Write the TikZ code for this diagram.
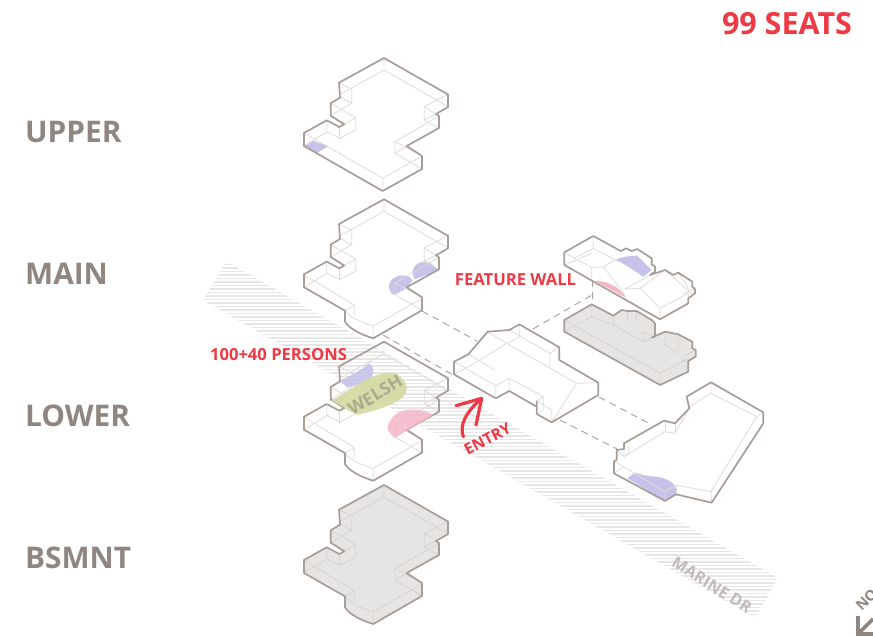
\documentclass[tikz,border=0pt]{standalone}
\usepackage{fontspec}
\setmainfont{Open Sans}
\definecolor{wallgray}{HTML}{A79D99}
\definecolor{linegray}{HTML}{DEDBD9}
\definecolor{floorgray}{HTML}{E7E5E3}
\definecolor{labelgray}{HTML}{8F8681}
\definecolor{hatchgray}{HTML}{E6E6E6}
\definecolor{seatred}{HTML}{EE3A45}
\definecolor{seatpurple}{HTML}{C6C2EA}
\definecolor{seatpink}{HTML}{F5B6C8}
\definecolor{seatgreen}{HTML}{D5D9A2}
\definecolor{welshgray}{HTML}{ABAA90}
\tikzset{
 wall/.style={draw=wallgray,line width=1.7pt,line join=round},
 thinwall/.style={draw=linegray,line width=0.8pt,line join=round},
 level/.style={font=\fontsize{29.8}{32}\selectfont\bfseries,text=labelgray,anchor=west,inner sep=0pt},
 redlabel/.style={font=\fontsize{16.6}{18}\selectfont\bfseries,text=seatred,inner sep=0pt},
 link/.style={draw=wallgray,line width=0.9pt,dash pattern=on 7pt off 5pt},
}
% outline of a floor, #1 is the part at the front corner
\newcommand{\planwall}[1]{(304,146) -- (304,133) -- (326.7,120.3) -- (339.3,127) -- (344.3,124.3) -- (330.7,115.7) -- (330.7,103.3) -- (340,97.7) -- (339,82.7) -- (384,58) -- (448,94.5) -- (448,107) -- (436,114) -- (439,116) -- (439,128) -- (406.7,146) -- (422,156) -- (422,169) #1 -- cycle}
\newcommand{\planlines}{
 \draw[thinwall] (384,58)--(384,70)--(448,106.7);
 \draw[thinwall] (384,70)--(339,95);
 \draw[thinwall] (339,82.7)--(351.7,89)--(351.7,103.3)--(340,97);
 \draw[thinwall] (330.7,103.3)--(355.7,117.7)--(355.7,130)--(340,138.3)--(326.7,131.7)--(326.7,120.3);
 \draw[thinwall] (339.3,127)--(339.3,139.3);
 \draw[thinwall] (355.7,117.7)--(344.3,124.3);
 \draw[thinwall] (330.7,115.7)--(351.7,103.3);
 \draw[thinwall] (304,146)--(326.7,132);
 \draw[thinwall] (395,141.7)--(422,156);
 \draw[thinwall] (395,141.7)--(395,153.3)--(422,169);
 \draw[thinwall] (395,153.3)--(406.7,146);
 \draw[thinwall] (395,141.7)--(439,116);
 \draw[thinwall] (424.3,106.7)--(424.3,120)--(439,128);
 \draw[thinwall] (424.3,106.7)--(436,114);
 \draw[thinwall] (424.3,106.7)--(448,94.3);
 \draw[thinwall] (424.3,120)--(436,114);
}
\newcommand{\bumpedge}{-- (373.3,197) .. controls (360,193) and (349,187) .. (345,180.4) -- (345,169.4)}
\newcommand{\bumplines}{
 \draw[thinwall] (304,133.4)--(354.3,163.7)--(354.3,175);
 \draw[thinwall] (345,169.4)--(354.3,163.7);
 \draw[thinwall] (345,169.4) .. controls (349,175) and (360,181) .. (373.3,184.7)--(373.3,197);
 \draw[thinwall] (373.3,184.7)--(422,157);
}
\begin{document}
\begin{tikzpicture}[x=1pt,y=-1pt]
 \useasboundingbox (0,0) rectangle (873,637);
 \clip (0,0) rectangle (873,637);
 % road
 \begin{scope}
  \clip (226,261)--(778,578)--(755,618)--(203,300)--cycle;
  \foreach \y in {261,264.5,...,621}{\draw[hatchgray,line width=1.5pt] (200,\y)--(780,\y);}
 \end{scope}
 \node[font=\fontsize{16}{18}\selectfont\bfseries,text=wallgray!70,rotate=-32,inner sep=0pt] (road) at (712,585) {MARINE DR};
 % upper
 \fill[seatpurple] (304,146)--(312.7,140.7)--(328.3,146)--(316.7,153.3)--cycle;
 \planlines
 \draw[thinwall] (304,133)--(382.7,178.3)--(382.7,191);
 \draw[thinwall] (382.7,178.3)--(422,156);
 \draw[wall] \planwall{-- (382.7,191)};
 % main
 \fill[seatpurple] (415,279.3) .. controls (411,276) and (411,266) .. (420,262.5) .. controls (426,260) and (431,262) .. (438.3,270) -- cycle;
 \fill[seatpurple] (395,295) .. controls (388,293) and (387,283) .. (393.3,278.3) .. controls (399,274) and (408,274) .. (412.7,280) -- (406.7,288.3) -- cycle;
 \begin{scope}[shift={(0,141.3)}]
  \planlines
  \bumplines
  \draw[wall] \planwall{\bumpedge};
 \end{scope}
 % lower
 \begin{scope}[shift={(0,283.7)}]
  \planlines
  \bumplines
  \draw[wall] \planwall{\bumpedge};
 \end{scope}
 \fill[seatpurple,opacity=.9] (340,380.7) .. controls (352,375) and (362,370) .. (368.3,363.3) .. controls (372,364) and (375,370) .. (372.7,375) .. controls (370,380) and (365,383) .. (363.3,383.3) .. controls (357,385) and (351,387) .. (346.7,387.3) -- cycle;
 \fill[seatgreen,opacity=.92] (331.7,400.7) -- (365,380) .. controls (375,375) and (385,372) .. (393.3,372.7) .. controls (401,374) and (407,384) .. (406.7,390) .. controls (406,395) and (401,399) .. (396.7,401.7) .. controls (385,408) and (370,412) .. (356.7,415) -- cycle;
 \fill[seatpink,opacity=.85] (395,437.7) .. controls (388,433) and (386,428) .. (388.3,424) .. controls (392,416) and (398,412) .. (403.3,410.7) .. controls (413,408) and (425,410) .. (433.3,415) -- cycle;
 \node[font=\fontsize{17.5}{19}\selectfont\bfseries,text=welshgray,rotate=31,inner sep=0pt] (welsh) at (375,395) {WELSH};
 % basement
 \begin{scope}[shift={(0,427)}]
  \fill[floorgray] \planwall{\bumpedge};
  \tikzset{thinwall/.append style={draw=wallgray!45}}
  \planlines
  \bumplines
  \draw[wall] \planwall{\bumpedge};
 \end{scope}
 % links
 \coordinate (mainR) at (422,311);
 \coordinate (houseL) at (477,341);
 \coordinate (mainB) at (383,335);
 \coordinate (houseF) at (453,375);
 \coordinate (houseT) at (533,329);
 \coordinate (featB) at (592,295);
 \coordinate (houseR) at (599,397);
 \coordinate (rightA) at (652,425);
 \coordinate (houseS) at (560,420);
 \coordinate (rightB) at (617,449);
 \coordinate (featT) at (592,280);
 \coordinate (featD) at (592,352);
 \draw[link] (mainR)--(houseL);
 \draw[link] (mainB)--(houseF);
 \draw[link] (houseT)--(featB);
 \draw[link] (houseR)--(rightA);
 \draw[link] (houseS)--(rightB);
 \draw[link] (featT)--(featD);
 % feature wall roof and floor
 \begin{scope}[shift={(550,225)},scale=0.3333]
  \fill[floorgray] (125,238)--(190,272)--(215,255)--(232,258)--(260,258)--(305,285)--(315,295)--(315,335)--(305,338)--(345,320)--(385,328)--(427,350)--(427,370)--(437,375)--(437,395)--(415,408)--(415,440)--(330,480)--(43,320)--(43,285)--cycle;
  \fill[seatpurple] (195,105) .. controls (215,95) and (240,92) .. (262,92) -- (305,135) -- (280,155) .. controls (255,140) and (225,115) .. (195,105) -- cycle;
  \fill[seatpink] (135,168) .. controls (165,165) and (210,185) .. (228,218) -- cycle;
  \draw[thinwall] (130,33)--(130,70)--(195,105);
  \draw[thinwall] (72,100)--(130,70);
  \draw[thinwall] (43,82)--(125,128)--(125,165);
  \draw[thinwall] (43,120)--(125,85);
  \draw[thinwall] (125,128)--(160,125)--(225,210);
  \draw[thinwall] (160,125)--(195,105);
  \draw[thinwall] (225,192)--(300,150);
  \draw[thinwall] (225,192)--(270,190)--(330,250)--(330,283);
  \draw[thinwall] (270,190)--(345,135);
  \draw[thinwall] (330,250)--(415,205);
  \draw[thinwall] (345,135)--(425,205);
  \draw[thinwall] (385,143)--(415,190)--(415,220);
  \draw[thinwall] (400,205)--(435,192);
  \draw[wall] (43,120)--(43,82)--(130,33)--(212,78)--(228,70)--(245,78)--(262,72)--(305,100)--(305,118)--(315,125)--(315,140)--(300,150)--(345,135)--(370,150)--(385,143)--(427,170)--(427,185)--(435,192)--(435,205)--(415,220)--(415,235)--(330,283)--cycle;
  \tikzset{thinwall/.append style={draw=wallgray!45}}
  \draw[thinwall] (43,285)--(330,445)--(330,480);
  \draw[thinwall] (330,445)--(415,400);
  \draw[thinwall] (125,238)--(125,275)--(43,320);
  \draw[thinwall] (125,275)--(190,300)--(190,272);
  \draw[thinwall] (190,300)--(280,350)--(305,338);
  \draw[thinwall] (280,320)--(280,350);
  \draw[thinwall] (280,320)--(315,335);
  \draw[thinwall] (232,258)--(232,290);
  \draw[thinwall] (260,258)--(260,290);
  \draw[thinwall] (345,320)--(345,360)--(385,385)--(385,328);
  \draw[thinwall] (398,395)--(398,410)--(415,408);
  \draw[thinwall] (398,395)--(437,375);
  \draw[wall] (125,238)--(190,272)--(215,255)--(232,258)--(260,258)--(305,285)--(315,295)--(315,335)--(305,338)--(345,320)--(385,328)--(427,350)--(427,370)--(437,375)--(437,395)--(415,408)--(415,440)--(330,480)--(43,320)--(43,285)--cycle;
 \end{scope}
 % house
 \begin{scope}[shift={(440,315)},scale=0.3333]
  \draw[thinwall] (42,140)--(167,212)--(167,250);
  \draw[thinwall] (167,212)--(208,190)--(208,228);
  \draw[thinwall] (208,190)--(310,245);
  \draw[thinwall] (85,118)--(165,165);
  \draw[thinwall] (143,50)--(200,85)--(410,205)--(335,322);
  \draw[thinwall] (410,205)--(475,203);
  \draw[thinwall] (42,178)--(120,135)--(200,85);
  \draw[thinwall] (238,28)--(238,65)--(205,85);
  \draw[thinwall] (208,45)--(330,115)--(330,155);
  \draw[thinwall] (330,115)--(358,97);
  \draw[thinwall] (290,258)--(310,245)--(310,285)--(290,297);
  \draw[thinwall] (290,258)--(335,285)--(335,322);
  \draw[wall] (167,250)--(42,178)--(42,140)--(85,118)--(143,50)--(208,45)--(238,28)--(358,97)--(358,135)--(475,203)--(475,240)--(335,322)--(290,297)--(290,258);
  \draw[wall] (167,250)--(208,228)--(290,275);
 \end{scope}
 % right block
 \begin{scope}[shift={(600,375)},scale=0.3333]
  \fill[seatpurple] (82,310)--(105,293) .. controls (130,300) and (150,305) .. (170,305) .. controls (195,308) and (220,320) .. (228,340)--(228,360)--(195,378)--cycle;
  \draw[thinwall] (333,22)--(333,55)--(470,125)--(490,112);
  \draw[thinwall] (470,125)--(333,350)--(335,383);
  \draw[thinwall] (333,55)--(268,95);
  \draw[thinwall] (228,330)--(333,350);
  \draw[thinwall] (228,330)--(195,350)--(195,378);
  \draw[thinwall] (195,350)--(42,258);
  \draw[thinwall] (228,330)--(228,358);
  \draw[thinwall] (42,295)--(72,275);
  \draw[thinwall] (72,205)--(72,245)--(50,225);
  \draw[thinwall] (85,210)--(85,235)--(72,245);
  \draw[thinwall] (72,245)--(195,170)--(225,175)--(268,100);
  \draw[thinwall] (195,170)--(195,137);
  \draw[thinwall] (225,175)--(225,145);
  \draw[wall] (333,22)--(490,112)--(490,145)--(335,383)--(228,358)--(195,378)--(42,295)--(42,258)--(50,255)--(50,225)--(72,222)--(72,205)--(192,137)--(225,145)--(268,100)--(260,65)--cycle;
 \end{scope}
 % entry arrow
 \coordinate (entryA) at (463.3,436.7);
 \coordinate (entryB) at (481.7,398.3);
 \coordinate (entryC) at (456,405.7);
 \coordinate (entryD) at (476,425);
 \draw[seatred,line width=3.2pt,line cap=round,line join=round] (entryA) .. controls (459,425) and (466,412) .. (entryB);
 \draw[seatred,line width=3.2pt,line cap=round,line join=round] (entryC)--(entryB)--(entryD);
 \node[redlabel,font=\fontsize{15.5}{17}\selectfont\bfseries,rotate=27] (entry) at (487.5,439) {ENTRY};
 % labels
 \node[level] (upper) at (25,132) {UPPER};
 \node[level] (main) at (25,274) {MAIN};
 \node[level] (lower) at (25,416) {LOWER};
 \node[level] (bsmnt) at (25,558) {BSMNT};
 \node[font=\fontsize{30.5}{33}\selectfont\bfseries,text=seatred,inner sep=0pt] (seats) at (787,24) {99 SEATS};
 \node[redlabel] (feature) at (515.5,280) {FEATURE WALL};
 \node[redlabel] (persons) at (278.5,355) {100+40 PERSONS};
 % north
 \coordinate (northA) at (873,619);
 \coordinate (northB) at (858,634);
 \draw[labelgray,line width=3.6pt,line join=miter] (858,616)--(northB)--(873,634);
 \draw[labelgray,line width=3.6pt] (northA)--(northB);
 \node[font=\fontsize{14.5}{16}\selectfont\bfseries,text=labelgray,rotate=45,anchor=west,inner sep=0pt] (north) at (858,608) {NO};
\end{tikzpicture}
\end{document}
